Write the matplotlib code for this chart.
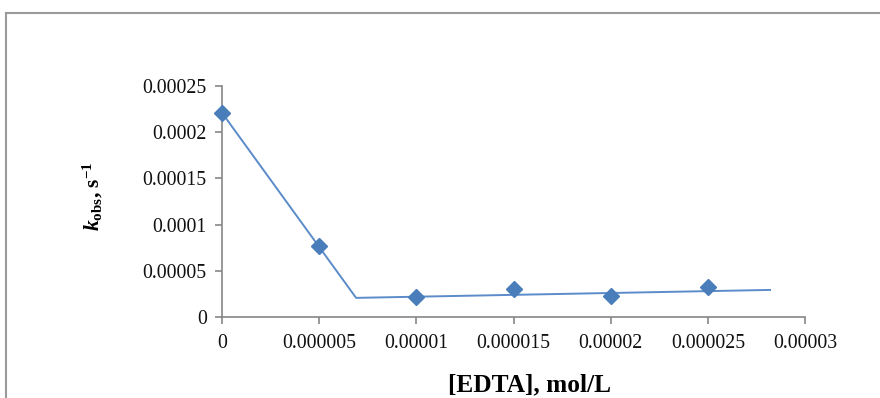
import matplotlib
matplotlib.use("Agg")
import matplotlib.pyplot as plt
from matplotlib.lines import Line2D
from matplotlib.ticker import FuncFormatter, MultipleLocator

plt.rcParams['font.family'] = ['Liberation Serif', 'DejaVu Serif']
plt.rcParams['mathtext.fontset'] = 'custom'
plt.rcParams['mathtext.rm'] = 'Liberation Serif:bold'
plt.rcParams['mathtext.bf'] = 'Liberation Serif:bold'
plt.rcParams['mathtext.it'] = 'Liberation Serif:bold:italic'

# measured points
edta = [0, 0.000005, 0.00001, 0.000015, 0.00002, 0.000025]
kobs = [0.000221, 0.000077, 0.000022, 0.000030, 0.000023, 0.000032]

# fitted piecewise line
fit_x = [0, 0.0000069, 0.0000282]
fit_y = [0.000221, 0.0000207, 0.0000293]

fig = plt.figure(figsize=(8.8, 3.98), dpi=100)
ax = fig.add_axes([222/880, 1 - 317/398, 583/880, 231/398])

ax.plot(fit_x, fit_y, color='#5B8BC9', lw=1.4, clip_on=False, zorder=2)
ax.plot(edta, kobs, linestyle='none', marker='D', ms=8.5, color='#4A7EBB',
        mec='#4A7EBB', clip_on=False, zorder=3)

ax.set_xlim(0, 0.00003)
ax.set_ylim(0, 0.00025)
ax.xaxis.set_major_locator(MultipleLocator(0.000005))
ax.yaxis.set_major_locator(MultipleLocator(0.00005))

def excel_fmt(v, pos):
    if abs(v) < 1e-12:
        return '0'
    return f"{v:.6f}".rstrip('0').rstrip('.')

ax.xaxis.set_major_formatter(FuncFormatter(excel_fmt))
ax.yaxis.set_major_formatter(FuncFormatter(excel_fmt))

for s in ['top', 'right']:
    ax.spines[s].set_visible(False)
for s in ['left', 'bottom']:
    ax.spines[s].set_color('#868686')
    ax.spines[s].set_linewidth(1.2)
ax.tick_params(axis='both', direction='out', length=5, width=1.2, color='#868686',
               labelsize=14.3, labelcolor='#111111')
ax.tick_params(axis='x', pad=7)
ax.tick_params(axis='y', pad=6)

ax.set_xlabel('[EDTA], mol/L', fontsize=18.3, fontweight='bold')
ax.xaxis.set_label_coords(0.528, -0.294)
ax.xaxis.label.set_va('center')

ax.set_ylabel(r'$k_{\mathrm{obs}}$, s$^{\mathrm{-1}}$', fontsize=15.5, fontweight='bold')
ax.yaxis.set_label_coords(-0.221, 0.525)
ax.yaxis.label.set_va('center')

# chart area border
fig.add_artist(Line2D([5.5/880, 5.5/880], [0, 1 - 12.5/398], transform=fig.transFigure,
                      color='#9a9a9a', lw=1.5))
fig.add_artist(Line2D([5.5/880, 1], [1 - 12.5/398, 1 - 12.5/398], transform=fig.transFigure,
                      color='#9a9a9a', lw=1.5))

fig.savefig('out.png', dpi=100)
